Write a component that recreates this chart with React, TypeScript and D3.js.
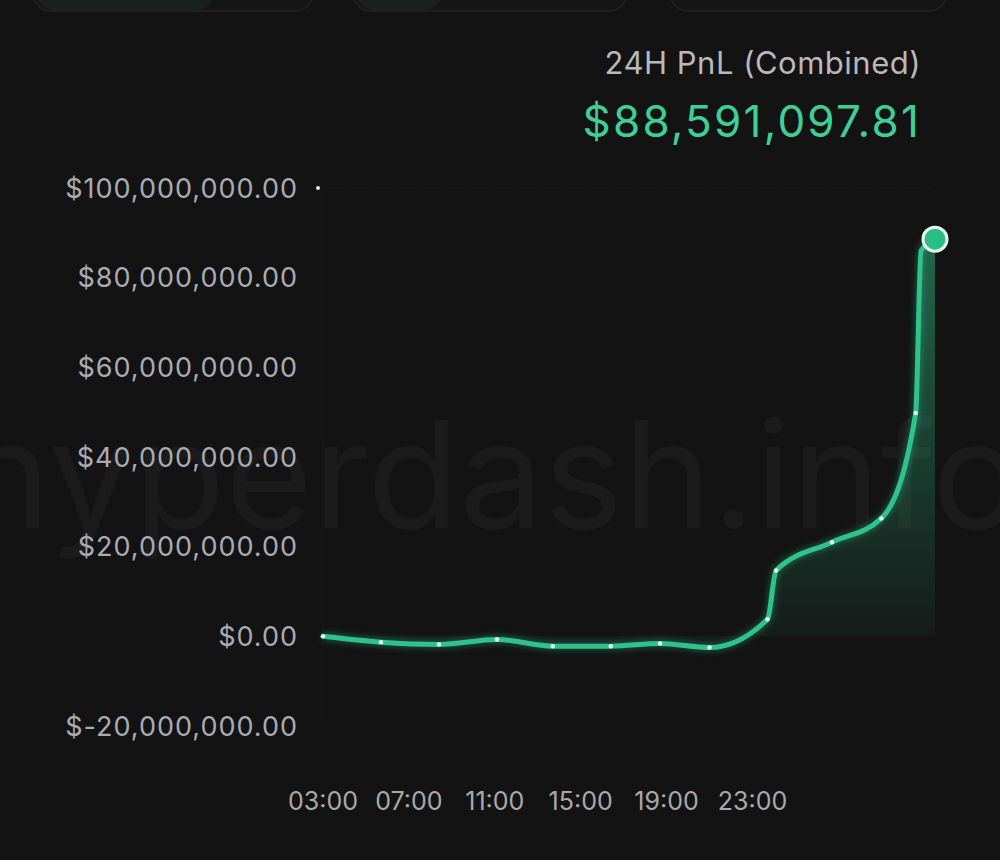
import React from "react";
import * as d3 from "d3";

// ---- data ----
const hours = [3.0, 5.7, 8.4, 11.1, 13.7, 16.4, 18.7, 21.0, 23.7, 24.1, 26.7, 29.0, 30.6, 30.85, 31.5];
const pnlMillions = [0, -1.3, -1.8, -0.7, -2.2, -2.2, -1.6, -2.5, 3.8, 14.7, 21.0, 26.3, 49.8, 86.0, 88.591];
const dotIndices = [0, 1, 2, 3, 4, 5, 6, 7, 8, 9, 10, 11, 12];
const yTicks = [100, 80, 60, 40, 20, 0, -20];
const yTickLabels = ["$100,000,000.00", "$80,000,000.00", "$60,000,000.00", "$40,000,000.00", "$20,000,000.00", "$0.00", "$-20,000,000.00"];
const xTicks = [3, 7, 11, 15, 19, 23];
const xTickLabels = ["03:00", "07:00", "11:00", "15:00", "19:00", "23:00"];
const titleText = "24H PnL (Combined)";
const valueText = "$88,591,097.81";
const watermark = "hyperdash.info";

const W = 1000;
const H = 860;
const FONT = "Inter, 'Noto Sans', sans-serif";

export default function App() {
  const x = d3.scaleLinear().domain([3, 31.5]).range([323, 935]);
  const y = d3.scaleLinear().domain([-20, 100]).range([726, 188]);
  const pts = hours.map((h, i) => [x(h), y(pnlMillions[i])] as [number, number]);

  const line = d3.line<[number, number]>().x(d => d[0]).y(d => d[1]).curve(d3.curveMonotoneX)(pts) || "";
  const area = d3.area<[number, number]>().x(d => d[0]).y0(y(0)).y1(d => d[1]).curve(d3.curveMonotoneX)(pts) || "";
  const last = pts[pts.length - 1];

  return (
    <svg width={W} height={H} style={{ position: "absolute", left: 0, top: 0, background: "#131313" }}>
      <defs>
        <linearGradient id="areaGrad" gradientUnits="userSpaceOnUse" x1="0" y1={y(90)} x2="0" y2={y(0)}>
          <stop offset="0" stopColor="#2fc28c" stopOpacity="0.48" />
          <stop offset="0.6" stopColor="#2fc28c" stopOpacity="0.22" />
          <stop offset="1" stopColor="#2fc28c" stopOpacity="0.05" />
        </linearGradient>
        <filter id="glow" x="-10%" y="-10%" width="120%" height="120%">
          <feGaussianBlur stdDeviation="3" />
        </filter>
      </defs>
      <rect x={0} y={0} width={W} height={H} fill="#131313" />

      {/* top buttons (cut off) */}
      <rect x={33} y={-40} width={280} height={51} rx={18} fill="#151515" stroke="#202020" strokeWidth={2} />
      <rect x={36} y={-40} width={178} height={50} rx={18} fill="#17211d" />
      <rect x={353} y={-40} width={274} height={51} rx={18} fill="#151515" stroke="#202020" strokeWidth={2} />
      <rect x={356} y={-40} width={86} height={50} rx={18} fill="#17211d" />
      <rect x={670} y={-40} width={277} height={51} rx={18} fill="#151515" stroke="#202020" strokeWidth={2} />

      {/* watermark */}
      <text x={-38} y={528} fontFamily={FONT} fontSize={148} fill="#ffffff" fillOpacity={0.035}
        textLength={1060} lengthAdjust="spacingAndGlyphs">{watermark}</text>

      {/* header */}
      <text x={921} y={74} textAnchor="end" fontFamily={FONT} fontSize={31} letterSpacing={0.5} fill="#b9b9b9">{titleText}</text>
      <text x={921} y={137} textAnchor="end" fontFamily={FONT} fontSize={44} letterSpacing={2.2} fill="#3ecf98">{valueText}</text>

      {/* faint grid */}
      <line x1={323} x2={935} y1={y(100)} y2={y(100)} stroke="#ffffff" strokeOpacity={0.06} strokeDasharray="2 4" />
      <line x1={323} x2={323} y1={y(100)} y2={y(-20)} stroke="#ffffff" strokeOpacity={0.025} />
      <circle cx={318} cy={y(100)} r={2} fill="#e8e8e8" />

      {/* y axis labels */}
      {yTicks.map((t, i) => (
        <text key={t} x={298} y={y(t)} dy="0.36em" textAnchor="end" fontFamily={FONT} fontSize={27} letterSpacing={1} fill="#a9abb3">
          {yTickLabels[i]}
        </text>
      ))}

      {/* x axis labels */}
      {xTicks.map((t, i) => (
        <text key={t} x={x(t)} y={801} dy="0.36em" textAnchor="middle" fontFamily={FONT} fontSize={25} fill="#a9a9a9">
          {xTickLabels[i]}
        </text>
      ))}

      {/* area */}
      <path d={area} fill="url(#areaGrad)" />

      {/* line */}
      <path d={line} fill="none" stroke="#2fc28c" strokeWidth={8} strokeOpacity={0.35} filter="url(#glow)" />
      <path d={line} fill="none" stroke="#2fc28c" strokeWidth={5} strokeLinejoin="round" strokeLinecap="round" />

      {dotIndices.map(i => (
        <circle key={i} cx={pts[i][0]} cy={pts[i][1]} r={2.2} fill="#e6fff3" />
      ))}

      {/* end marker */}
      <circle cx={last[0]} cy={last[1]} r={12} fill="#2bbd87" stroke="#e9f6ef" strokeWidth={3} />
    </svg>
  );
}
